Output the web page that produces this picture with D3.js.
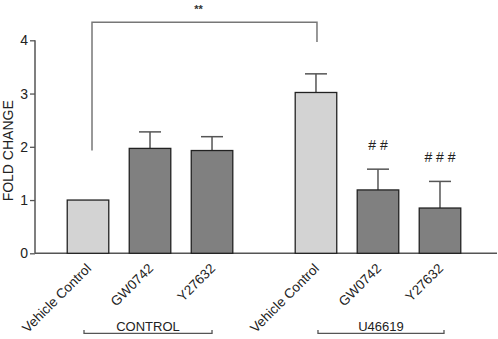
<!DOCTYPE html>
<html>
<head>
<meta charset="utf-8">
<script src="https://cdn.jsdelivr.net/npm/d3@7"></script>
<style>
  html, body { margin: 0; padding: 0; background: #fff; }
  svg { display: block; font-family: "Liberation Sans", Arial, sans-serif; }
</style>
</head>
<body>
<div id="chart"></div>
<script>
// data
const groups = ["CONTROL", "U46619"];
const treatments = ["Vehicle Control", "GW0742", "Y27632"];
const means = [[1.0, 1.97, 1.93], [3.02, 1.19, 0.85]];
const errors = [[0, 0.31, 0.26], [0.35, 0.39, 0.50]];
const marks = [["", "", ""], ["", "# #", "# # #"]];
const yTicks = [0, 1, 2, 3, 4];

const C_VEHICLE = "#d3d3d3";
const C_DRUG = "#808080";

const width = 498, height = 339;

const svg = d3.select("#chart").append("svg")
  .attr("width", width)
  .attr("height", height);

const x0 = d3.scaleBand().domain(groups).range([57, 471]).paddingInner(0.184).paddingOuter(0);
const x1 = d3.scaleBand().domain(treatments).range([0, x0.bandwidth()])
  .paddingInner(0.33).paddingOuter(0.165);
const y = d3.scaleLinear().domain([0, 4]).range([253.3, 40.3]);

const cx = (g, t) => x0(g) + x1(t) + x1.bandwidth() / 2;

// ===== Y axis =====
const yAxisG = svg.append("g")
  .attr("transform", "translate(35,0)")
  .call(d3.axisLeft(y).tickValues(yTicks).tickSize(5).tickPadding(2).tickFormat(d3.format("d")));
yAxisG.select(".domain").attr("stroke", "#555").attr("stroke-width", 1.5).attr("d", `M0,${y(0)}V${y(4)}`);
yAxisG.selectAll(".tick line").attr("stroke", "#555").attr("stroke-width", 1.3);
yAxisG.selectAll(".tick text").attr("font-size", 14).attr("fill", "#222")
  .attr("font-family", "Liberation Sans, Arial, sans-serif");

svg.append("text")
  .attr("transform", `translate(13,${(y(0) + y(4)) / 2 + 4}) rotate(-90)`)
  .attr("text-anchor", "middle")
  .attr("font-size", 14)
  .attr("fill", "#222")
  .text("FOLD CHANGE");

// ===== X axis line =====
svg.append("line")
  .attr("x1", 35).attr("x2", 497)
  .attr("y1", y(0)).attr("y2", y(0))
  .attr("stroke", "#555").attr("stroke-width", 1.5);

// ===== bars =====
groups.forEach((g, gi) => {
  treatments.forEach((t, ti) => {
    const m = means[gi][ti], e = errors[gi][ti];
    const c = cx(g, t);
    if (e > 0) {
      svg.append("line")
        .attr("x1", c).attr("x2", c)
        .attr("y1", y(m)).attr("y2", y(m + e))
        .attr("stroke", "#555").attr("stroke-width", 1.5);
      svg.append("line")
        .attr("x1", c - 11).attr("x2", c + 11)
        .attr("y1", y(m + e)).attr("y2", y(m + e))
        .attr("stroke", "#555").attr("stroke-width", 1.5);
    }
    svg.append("rect")
      .attr("x", x0(g) + x1(t))
      .attr("y", y(m))
      .attr("width", x1.bandwidth())
      .attr("height", y(0) - y(m))
      .attr("fill", ti === 0 ? C_VEHICLE : C_DRUG)
      .attr("stroke", "#222")
      .attr("stroke-width", 1.3);
    if (marks[gi][ti]) {
      svg.append("text")
        .attr("x", c)
        .attr("y", y(m + e) - 19)
        .attr("text-anchor", "middle")
        .attr("font-size", 14)
        .attr("fill", "#222")
        .text(marks[gi][ti]);
    }
    // tick label
    svg.append("text")
      .attr("transform", `translate(${c + 4},${y(0) + 16}) rotate(-45)`)
      .attr("text-anchor", "end")
      .attr("font-size", 13.5)
      .attr("fill", "#222")
      .text(t);
  });

  // group bracket
  const xa = cx(g, treatments[0]) - 4 + gi * 6;
  const xb = cx(g, treatments[2]) + gi * 4;
  svg.append("path")
    .attr("d", `M${xa},330V333.3H${xb}V330`)
    .attr("fill", "none").attr("stroke", "#555").attr("stroke-width", 1.3);
  svg.append("text")
    .attr("x", (xa + xb) / 2)
    .attr("y", 331)
    .attr("text-anchor", "middle")
    .attr("font-size", 13)
    .attr("fill", "#222")
    .text(g);
});

// ===== significance bracket =====
const sLeft = cx(groups[0], treatments[0]) + 4;
const sRight = cx(groups[1], treatments[0]) + 1;
svg.append("path")
  .attr("d", `M${sLeft},${y(1.93)}V${y(4.34)}H${sRight}V${y(3.97)}`)
  .attr("fill", "none").attr("stroke", "#777").attr("stroke-width", 1.5);
svg.append("text")
  .attr("x", (sLeft + sRight) / 2 - 6)
  .attr("y", 13)
  .attr("text-anchor", "middle")
  .attr("font-size", 11)
  .attr("font-weight", "bold")
  .attr("fill", "#333")
  .text("**");
</script>
</body>
</html>
